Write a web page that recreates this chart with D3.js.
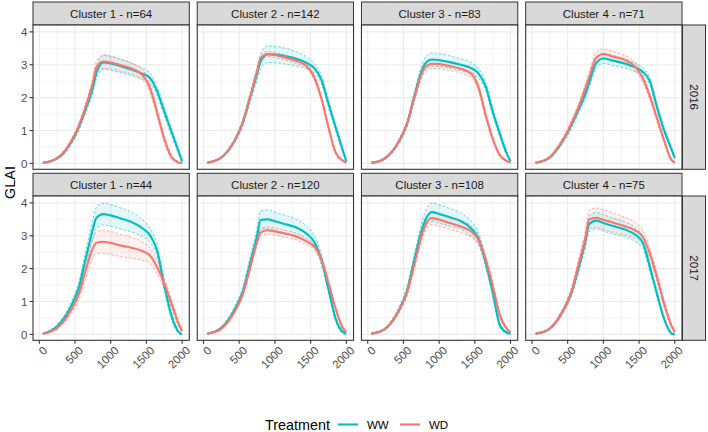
<!DOCTYPE html>
<html><head><meta charset="utf-8">
<script src="https://cdn.jsdelivr.net/npm/d3@7"></script>
<style>
body{margin:0;background:#fff}
svg{display:block;font-family:"Liberation Sans",Arial,Helvetica,sans-serif}
</style>
</head><body>
<svg id="chart" width="708" height="432"></svg>
<script>
// ---------- DATA ----------
const gdd = [50,150,250,350,450,550,650,750,800,900,1000,1150,1300,1450,1550,1650,1750,1850,1950,2000];
const years = ["2016","2017"];
const stripLabels2016 = ["Cluster 1 - n=64","Cluster 2 - n=142","Cluster 3 - n=83","Cluster 4 - n=71"];
const stripLabels2017 = ["Cluster 1 - n=44","Cluster 2 - n=120","Cluster 3 - n=108","Cluster 4 - n=75"];
const treatments = ["WW","WD"];
const xTicks = [0,500,1000,1500,2000];
const yTicks = [0,1,2,3,4];

// 2016
const c1_2016_ww    = [0.02,0.06,0.15,0.34,0.65,1.08,1.65,2.3,2.75,3.07,3.04,2.95,2.85,2.72,2.6,2.2,1.58,0.97,0.37,0.06];
const c1_2016_ww_se = [0.01,0.02,0.03,0.05,0.07,0.09,0.12,0.16,0.19,0.21,0.21,0.2,0.19,0.17,0.15,0.14,0.13,0.11,0.08,0.05];
const c1_2016_wd    = [0.02,0.06,0.16,0.36,0.68,1.12,1.72,2.45,2.92,3.1,3.07,2.98,2.88,2.68,2.3,1.55,0.75,0.2,0.03,0.01];
const c1_2016_wd_se = [0.01,0.02,0.03,0.05,0.07,0.09,0.12,0.16,0.19,0.21,0.2,0.19,0.17,0.15,0.14,0.13,0.11,0.06,0.02,0.01];

const c2_2016_ww    = [0.02,0.07,0.18,0.4,0.75,1.24,1.98,2.72,3.1,3.32,3.31,3.26,3.18,3.05,2.9,2.55,1.82,1.1,0.4,0.06];
const c2_2016_ww_se = [0.01,0.02,0.03,0.05,0.08,0.11,0.15,0.2,0.23,0.25,0.25,0.24,0.22,0.18,0.15,0.13,0.12,0.11,0.08,0.04];
const c2_2016_wd    = [0.02,0.07,0.18,0.4,0.75,1.25,2.0,2.81,3.2,3.33,3.3,3.22,3.12,2.95,2.62,1.98,1.1,0.33,0.08,0.03];
const c2_2016_wd_se = [0.01,0.01,0.02,0.03,0.04,0.05,0.06,0.07,0.08,0.08,0.08,0.08,0.08,0.08,0.08,0.08,0.07,0.05,0.03,0.02];

const c3_2016_ww    = [0.02,0.06,0.17,0.38,0.72,1.2,2.02,2.78,3.02,3.16,3.14,3.08,3.0,2.9,2.74,2.35,1.58,0.9,0.28,0.07];
const c3_2016_ww_se = [0.01,0.02,0.03,0.05,0.07,0.1,0.14,0.17,0.19,0.2,0.2,0.19,0.18,0.17,0.15,0.13,0.12,0.1,0.06,0.03];
const c3_2016_wd    = [0.02,0.06,0.17,0.38,0.72,1.2,1.98,2.7,2.92,3.03,3.02,2.96,2.88,2.73,2.32,1.48,0.75,0.25,0.07,0.03];
const c3_2016_wd_se = [0.01,0.02,0.03,0.04,0.06,0.08,0.1,0.12,0.13,0.14,0.14,0.13,0.13,0.12,0.11,0.1,0.08,0.05,0.03,0.02];

const c4_2016_ww    = [0.02,0.07,0.18,0.42,0.75,1.15,1.62,2.12,2.45,3.05,3.19,3.12,3.04,2.92,2.79,2.5,1.72,1.01,0.45,0.17];
const c4_2016_ww_se = [0.01,0.02,0.03,0.05,0.07,0.09,0.11,0.13,0.14,0.15,0.15,0.15,0.14,0.13,0.12,0.11,0.1,0.09,0.07,0.05];
const c4_2016_wd    = [0.02,0.07,0.19,0.45,0.78,1.2,1.7,2.3,2.62,3.22,3.33,3.24,3.15,2.93,2.6,2.05,1.38,0.7,0.12,0.02];
const c4_2016_wd_se = [0.01,0.02,0.03,0.05,0.07,0.09,0.11,0.13,0.14,0.15,0.15,0.15,0.14,0.13,0.12,0.11,0.1,0.08,0.04,0.02];

// 2017
const c1_2017_ww    = [0.02,0.1,0.25,0.5,0.88,1.4,2.3,3.2,3.55,3.66,3.62,3.52,3.41,3.22,3.02,2.55,1.5,0.58,0.08,0.0];
const c1_2017_ww_se = [0.01,0.03,0.05,0.08,0.12,0.17,0.23,0.3,0.32,0.33,0.33,0.32,0.3,0.26,0.22,0.18,0.14,0.1,0.04,0.01];
const c1_2017_wd    = [0.02,0.08,0.2,0.42,0.76,1.2,1.95,2.62,2.79,2.82,2.78,2.7,2.63,2.53,2.4,2.05,1.55,0.95,0.33,0.1];
const c1_2017_wd_se = [0.01,0.03,0.05,0.08,0.12,0.17,0.24,0.3,0.34,0.35,0.35,0.34,0.32,0.28,0.24,0.2,0.17,0.14,0.1,0.06];

const c2_2017_ww    = [0.02,0.08,0.2,0.45,0.82,1.3,2.15,3.0,3.48,3.5,3.44,3.35,3.25,3.05,2.82,2.28,1.38,0.48,0.07,0.02];
const c2_2017_ww_se = [0.01,0.02,0.04,0.06,0.09,0.13,0.18,0.24,0.27,0.28,0.28,0.27,0.26,0.23,0.2,0.16,0.12,0.08,0.04,0.02];
const c2_2017_wd    = [0.02,0.07,0.17,0.4,0.75,1.22,2.0,2.82,3.1,3.17,3.13,3.06,2.98,2.82,2.68,2.3,1.57,0.79,0.2,0.07];
const c2_2017_wd_se = [0.01,0.01,0.02,0.03,0.04,0.06,0.08,0.1,0.11,0.11,0.11,0.11,0.1,0.1,0.09,0.09,0.08,0.07,0.05,0.03];

const c3_2017_ww    = [0.02,0.07,0.18,0.42,0.8,1.32,2.25,3.13,3.45,3.72,3.66,3.56,3.45,3.22,2.92,2.2,1.28,0.28,0.05,0.02];
const c3_2017_ww_se = [0.01,0.02,0.04,0.06,0.09,0.13,0.18,0.23,0.26,0.28,0.28,0.27,0.25,0.22,0.19,0.15,0.11,0.07,0.03,0.02];
const c3_2017_wd    = [0.02,0.07,0.18,0.42,0.78,1.28,2.1,2.98,3.3,3.54,3.49,3.39,3.28,3.13,2.88,2.3,1.48,0.58,0.17,0.07];
const c3_2017_wd_se = [0.01,0.02,0.03,0.05,0.07,0.1,0.14,0.17,0.19,0.2,0.2,0.19,0.18,0.17,0.15,0.13,0.11,0.08,0.05,0.03];

const c4_2017_ww    = [0.02,0.07,0.18,0.42,0.78,1.25,2.0,2.85,3.35,3.46,3.39,3.29,3.19,3.03,2.8,2.06,1.24,0.48,0.04,0.0];
const c4_2017_ww_se = [0.01,0.02,0.03,0.05,0.08,0.11,0.15,0.2,0.23,0.25,0.25,0.24,0.23,0.21,0.18,0.14,0.1,0.07,0.03,0.01];
const c4_2017_wd    = [0.02,0.07,0.18,0.42,0.78,1.28,2.1,2.95,3.5,3.55,3.49,3.39,3.29,3.16,2.97,2.47,1.75,0.94,0.28,0.07];
const c4_2017_wd_se = [0.01,0.02,0.03,0.05,0.08,0.12,0.17,0.23,0.27,0.3,0.3,0.29,0.27,0.24,0.21,0.18,0.15,0.12,0.07,0.04];

// ---------- ASSEMBLY ----------
const panels = [
  {row:0,col:0,label:stripLabels2016[0],WW:[c1_2016_ww,c1_2016_ww_se],WD:[c1_2016_wd,c1_2016_wd_se]},
  {row:0,col:1,label:stripLabels2016[1],WW:[c2_2016_ww,c2_2016_ww_se],WD:[c2_2016_wd,c2_2016_wd_se]},
  {row:0,col:2,label:stripLabels2016[2],WW:[c3_2016_ww,c3_2016_ww_se],WD:[c3_2016_wd,c3_2016_wd_se]},
  {row:0,col:3,label:stripLabels2016[3],WW:[c4_2016_ww,c4_2016_ww_se],WD:[c4_2016_wd,c4_2016_wd_se]},
  {row:1,col:0,label:stripLabels2017[0],WW:[c1_2017_ww,c1_2017_ww_se],WD:[c1_2017_wd,c1_2017_wd_se]},
  {row:1,col:1,label:stripLabels2017[1],WW:[c2_2017_ww,c2_2017_ww_se],WD:[c2_2017_wd,c2_2017_wd_se]},
  {row:1,col:2,label:stripLabels2017[2],WW:[c3_2017_ww,c3_2017_ww_se],WD:[c3_2017_wd,c3_2017_wd_se]},
  {row:1,col:3,label:stripLabels2017[3],WW:[c4_2017_ww,c4_2017_ww_se],WD:[c4_2017_wd,c4_2017_wd_se]}
];

const color = d3.scaleOrdinal().domain(treatments).range(["#00BFC4","#F8766D"]);

// ---------- LAYOUT ----------
const svg = d3.select("#chart");
svg.append("rect").attr("width",708).attr("height",432).attr("fill","#fff");

const panelW = 156.3, gapX = 7.93, left0 = 33;
const panelH = 144.3;
const stripTop = [2, 173.3];
const panelTop = [25, 196];
const rightStripX = 682.5, rightStripW = 23;

const fontSmall = 11.5, fontTitle = 14.4;

panels.forEach(p => {
  const x0 = left0 + p.col*(panelW+gapX);
  const y0 = panelTop[p.row];
  const x = d3.scaleLinear().domain([-88, 2101]).range([x0, x0+panelW]);
  const y = d3.scaleLinear().domain([-0.18, 4.21]).range([y0+panelH, y0]);
  const g = svg.append("g");

  // strip
  g.append("rect").attr("x",x0).attr("y",stripTop[p.row]).attr("width",panelW)
   .attr("height",y0-stripTop[p.row]).attr("fill","#d9d9d9").attr("stroke","#333").attr("stroke-width",1);
  g.append("text").attr("x",x0+panelW/2).attr("y",(stripTop[p.row]+y0)/2).attr("dy","0.36em")
   .attr("text-anchor","middle").attr("font-size",fontSmall).attr("fill","#1a1a1a").text(p.label);

  // background + grid
  g.append("rect").attr("x",x0).attr("y",y0).attr("width",panelW).attr("height",panelH).attr("fill","#fff");
  const minorX = [250,750,1250,1750], minorY = [0.5,1.5,2.5,3.5];
  g.selectAll(null).data(minorX).join("line")
    .attr("x1",d=>x(d)).attr("x2",d=>x(d)).attr("y1",y0).attr("y2",y0+panelH)
    .attr("stroke","#ebebeb").attr("stroke-width",0.55);
  g.selectAll(null).data(minorY).join("line")
    .attr("y1",d=>y(d)).attr("y2",d=>y(d)).attr("x1",x0).attr("x2",x0+panelW)
    .attr("stroke","#ebebeb").attr("stroke-width",0.55);
  g.selectAll(null).data(xTicks).join("line")
    .attr("x1",d=>x(d)).attr("x2",d=>x(d)).attr("y1",y0).attr("y2",y0+panelH)
    .attr("stroke","#ebebeb").attr("stroke-width",1.1);
  g.selectAll(null).data(yTicks).join("line")
    .attr("y1",d=>y(d)).attr("y2",d=>y(d)).attr("x1",x0).attr("x2",x0+panelW)
    .attr("stroke","#ebebeb").attr("stroke-width",1.1);

  const clipId = "clip"+p.row+p.col;
  svg.append("clipPath").attr("id",clipId).append("rect")
    .attr("x",x0).attr("y",y0).attr("width",panelW).attr("height",panelH);
  const data = g.append("g").attr("clip-path",`url(#${clipId})`);

  treatments.forEach(t => {
    const [m, se] = p[t];
    const pts = gdd.map((gx,i)=>({x:gx, m:m[i], lo:m[i]-se[i], hi:m[i]+se[i]}));
    const area = d3.area().curve(d3.curveMonotoneX).x(d=>x(d.x)).y0(d=>y(d.lo)).y1(d=>y(d.hi));
    data.append("path").attr("d",area(pts)).attr("fill",color(t)).attr("fill-opacity",0.1);
    ["lo","hi"].forEach(k=>{
      const ln = d3.line().curve(d3.curveMonotoneX).x(d=>x(d.x)).y(d=>y(d[k]));
      data.append("path").attr("d",ln(pts)).attr("fill","none").attr("stroke",color(t))
        .attr("stroke-width",0.6).attr("stroke-dasharray","2.5,2");
    });
  });
  treatments.forEach(t => {
    const [m] = p[t];
    const pts = gdd.map((gx,i)=>({x:gx, m:m[i]}));
    const ln = d3.line().curve(d3.curveMonotoneX).x(d=>x(d.x)).y(d=>y(d.m));
    data.append("path").attr("d",ln(pts)).attr("fill","none").attr("stroke",color(t))
      .attr("stroke-width",2.1).attr("stroke-linejoin","round").attr("stroke-linecap","butt");
  });

  // border
  g.append("rect").attr("x",x0).attr("y",y0).attr("width",panelW).attr("height",panelH)
   .attr("fill","none").attr("stroke","#333").attr("stroke-width",1.1);

  // y axis
  if (p.col===0) {
    const ya = g.append("g");
    ya.selectAll(null).data(yTicks).join("line")
      .attr("x1",x0-3.5).attr("x2",x0).attr("y1",d=>y(d)).attr("y2",d=>y(d))
      .attr("stroke","#333").attr("stroke-width",1.1);
    ya.selectAll(null).data(yTicks).join("text")
      .attr("x",x0-5.5).attr("y",d=>y(d)).attr("dy","0.36em").attr("text-anchor","end")
      .attr("font-size",fontSmall).attr("fill","#4d4d4d").text(d=>d);
  }
  // x axis
  if (p.row===1) {
    const xa = g.append("g");
    const yb = y0+panelH;
    xa.selectAll(null).data(xTicks).join("line")
      .attr("x1",d=>x(d)).attr("x2",d=>x(d)).attr("y1",yb).attr("y2",yb+3.5)
      .attr("stroke","#333").attr("stroke-width",1.1);
    xa.selectAll(null).data(xTicks).join("text")
      .attr("transform",d=>`translate(${x(d)+3},${yb+5}) rotate(-45)`)
      .attr("dy","0.72em").attr("text-anchor","end")
      .attr("font-size",fontSmall).attr("fill","#4d4d4d").text(d=>d);
  }
  // right strip
  if (p.col===3) {
    g.append("rect").attr("x",rightStripX).attr("y",y0).attr("width",rightStripW).attr("height",panelH)
     .attr("fill","#d9d9d9").attr("stroke","#333").attr("stroke-width",1);
    g.append("text").attr("transform",`translate(${rightStripX+rightStripW/2},${y0+panelH/2}) rotate(90)`)
     .attr("dy","0.36em").attr("text-anchor","middle").attr("font-size",fontSmall)
     .attr("fill","#1a1a1a").text(years[p.row]);
  }
});

// y title
svg.append("text").attr("transform","translate(10,182.5) rotate(-90)").attr("dy","0.36em")
  .attr("text-anchor","middle").attr("font-size",fontTitle).attr("fill","#000").text("GLAI");

// legend
const lg = svg.append("g");
lg.append("text").attr("x",265).attr("y",425).attr("dy","0.36em").attr("font-size",fontTitle)
  .attr("fill","#000").text("Treatment");
const keyX = [338, 400];
treatments.forEach((t,i)=>{
  lg.append("line").attr("x1",keyX[i]).attr("x2",keyX[i]+20).attr("y1",424.5).attr("y2",424.5)
    .attr("stroke",color(t)).attr("stroke-width",2.1);
  lg.append("text").attr("x",keyX[i]+29).attr("y",425).attr("dy","0.36em").attr("font-size",fontSmall)
    .attr("fill","#000").text(t);
});
</script>
</body></html>
